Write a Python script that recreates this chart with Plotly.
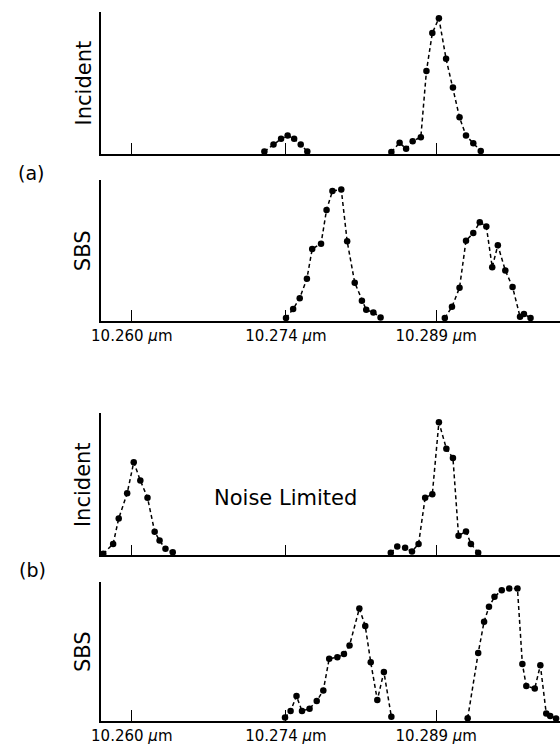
import plotly.graph_objects as go

W, H = 560, 745
FONT = "DejaVu Sans"

# Tick positions (scan position, arbitrary units) and labels
tick_pos = [31, 188, 341]
tick_labels = ["10.260 <i>μ</i>m", "10.274 <i>μ</i>m", "10.289 <i>μ</i>m"]

# (a) Incident
inc_a_x = [166, 175.3, 183, 189.7, 196.3, 203, 209.7, None,
           295.3, 303.7, 310.3, 317, 325.3, 331, 337, 343.7, 351, 358, 364.7, 371.3, 378.7, 386.3]
inc_a_y = [2.3, 9.3, 15, 18.3, 15, 9.3, 2.3, None,
           1.7, 11, 5, 12.7, 16.7, 83.3, 121.7, 136.7, 95.7, 66.7, 36.7, 18.3, 10.7, 2.7]

# (a) SBS
sbs_a_x = [188, 195.3, 202, 209.3, 214.7, 223.7, 229.3, 235.3, 244.3, 250.3, 258, 265.3, 269.7, 277, 284.3, None,
           349.7, 357, 364.7, 371.3, 378.7, 385.3, 392, 398, 403.7, 411.3, 418.7, 426.3, 430.3, 437]
sbs_a_y = [2.7, 11.7, 22.7, 42.3, 72.3, 77.7, 111.7, 130.7, 132.3, 80, 38.3, 20, 11, 8.3, 3.3, None,
           2.7, 14, 33.3, 80.7, 88.3, 99.3, 95, 54, 76, 50.7, 34, 4, 6.7, 2.7]

# (b) Incident
inc_b_x = [2, 12, 17.7, 26.3, 33, 39.7, 47, 54.3, 59.3, 65.3, 72.7, None,
           294.7, 301.3, 309.3, 316.3, 323, 329.7, 337, 343.7, 351.3, 358, 363.7, 371.3, 376.3, 383.7]
inc_b_y = [1.7, 11.7, 37.3, 62.7, 94, 75.7, 58.3, 24, 15, 6.7, 3.3, None,
           2.7, 9, 7.7, 4, 11.7, 58.3, 61.7, 134.3, 107.7, 98.3, 20, 24.3, 11.7, 2.7]

# (b) SBS
sbs_b_x = [187, 192.7, 198.7, 204.3, 212, 219.3, 226, 232, 240.3, 247, 252.7, 262.7, 268.7, 274.3, 281, 287.7, 295.3, None,
           373, 383.7, 389.7, 394.7, 400.3, 407.7, 415.3, 423.7, 428.7, 432.7, 441.3, 447, 453, 457, 463]
sbs_b_y = [3.3, 10, 25, 10, 12.3, 20, 30.7, 62.7, 64, 67.3, 76, 113.3, 95.7, 59, 21, 49.3, 4, None,
           2.7, 68.3, 100, 115, 125, 131.7, 133.3, 133.3, 57.3, 35, 32.7, 56, 7.3, 5, 2.3]

panels = [
    # (x, y, top_px, base_px, ylabel, show tick labels)
    (inc_a_x, inc_a_y, 12, 155, "Incident", False),
    (sbs_a_x, sbs_a_y, 181.7, 323.3, "SBS", True),
    (inc_b_x, inc_b_y, 416.7, 560, "Incident", False),
    (sbs_b_x, sbs_b_y, 586.7, 726.7, "SBS", True),
]

X0 = 93  # left axis position, px
fig = go.Figure()
annotations = []
layout = {}
for i, (xs, ys, top, base, lab, showlab) in enumerate(panels, start=1):
    sfx = "" if i == 1 else str(i)
    fig.add_trace(go.Scatter(
        x=xs, y=ys, mode="lines+markers", xaxis="x" + sfx, yaxis="y" + sfx,
        line=dict(color="black", width=1.5, dash="4px,3px"),
        marker=dict(color="black", size=6.5),
        connectgaps=False, cliponaxis=False, showlegend=False, hoverinfo="skip",
    ))
    layout["xaxis" + sfx] = dict(
        domain=[X0 / W, 1.0], range=[0, W - X0], anchor="y" + sfx,
        showgrid=False, zeroline=False, showline=True, linecolor="black", linewidth=1.8,
        ticks="inside", ticklen=11, tickwidth=1.2, tickcolor="black",
        tickvals=tick_pos, ticktext=tick_labels, showticklabels=showlab,
        tickfont=dict(family=FONT, size=15, color="black"),
        fixedrange=True,
    )
    layout["yaxis" + sfx] = dict(
        domain=[1 - base / H, 1 - top / H], range=[0, base - top], anchor="x" + sfx,
        showgrid=False, zeroline=False, showline=True, linecolor="black", linewidth=1.8,
        showticklabels=False, ticks="", fixedrange=True,
    )
    annotations.append(dict(
        text=lab, textangle=-90, xref="paper", yref="paper",
        x=75 / W, y=1 - (top + base) / 2 / H, xanchor="center", yanchor="middle",
        showarrow=False, font=dict(family=FONT, size=21, color="black"),
    ))

for txt, px, py in [("(a)", 21, 174), ("(b)", 23, 575)]:
    annotations.append(dict(
        text=txt, xref="paper", yref="paper", x=px / W, y=1 - py / H,
        xanchor="center", yanchor="middle", showarrow=False,
        font=dict(family=FONT, size=19, color="black"),
    ))

annotations.append(dict(
    text="Noise Limited", xref="paper", yref="paper", x=280 / W, y=1 - 502 / H,
    xanchor="center", yanchor="middle", showarrow=False,
    font=dict(family=FONT, size=21, color="black"),
))

fig.update_layout(
    width=W, height=H, margin=dict(l=0, r=0, t=0, b=0),
    paper_bgcolor="white", plot_bgcolor="white",
    annotations=annotations, **layout,
)

fig.write_html(
    "out.html",
    config={"displayModeBar": False},
    post_script="document.body.style.margin='0';document.body.style.padding='0';"
                "document.documentElement.style.overflow='hidden';",
)
